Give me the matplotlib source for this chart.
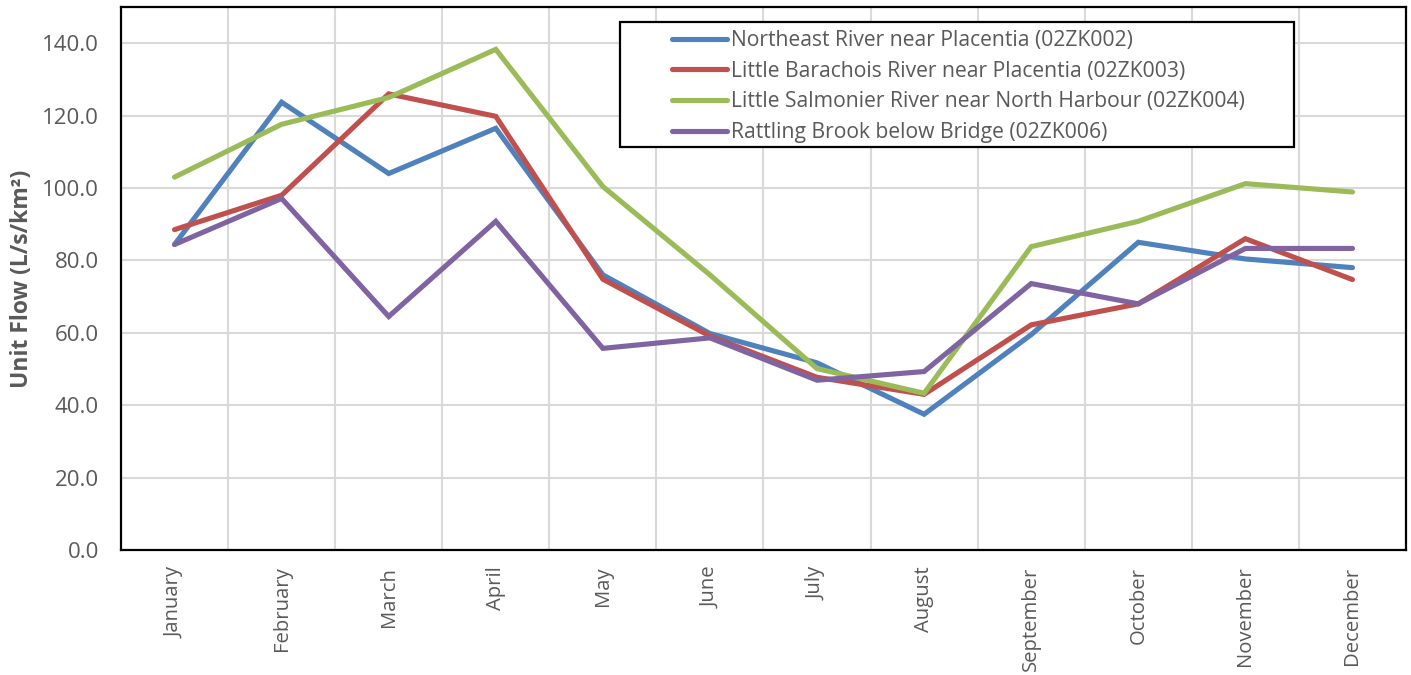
import matplotlib
matplotlib.use("Agg")
import matplotlib.pyplot as plt
import matplotlib.patches as mpatches
import numpy as np

plt.rcParams['font.family'] = ['Open Sans', 'DejaVu Sans']

months = ["January", "February", "March", "April", "May", "June", "July",
          "August", "September", "October", "November", "December"]
northeast = [84.4, 123.7, 104.0, 116.5, 76.0, 59.8, 51.7, 37.5, 59.5, 85.0, 80.4, 78.0]
barachois = [88.5, 98.0, 126.0, 119.8, 74.8, 59.1, 47.7, 43.0, 62.2, 68.0, 86.0, 74.7]
salmonier = [103.0, 117.6, 125.0, 138.3, 100.4, 76.0, 50.1, 43.3, 83.8, 90.8, 101.2, 98.9]
rattling = [84.4, 97.1, 64.5, 90.8, 55.7, 58.6, 46.9, 49.3, 73.6, 68.0, 83.3, 83.3]
labels = ["Northeast River near Placentia (02ZK002)",
          "Little Barachois River near Placentia (02ZK003)",
          "Little Salmonier River near North Harbour (02ZK004)",
          "Rattling Brook below Bridge (02ZK006)"]
colors = ["#4F81BD", "#C0504D", "#9BBB59", "#8064A2"]
yticks = [0, 20, 40, 60, 80, 100, 120, 140]

W, H = 1411, 675
fig = plt.figure(figsize=(W / 100, H / 100), dpi=100)
ax = fig.add_axes([121 / W, 1 - 550 / H, (1406 - 121) / W, (550 - 7) / H])
x = np.arange(len(months))
for vals, lab, c in zip([northeast, barachois, salmonier, rattling], labels, colors):
    ax.plot(x, vals, color=c, lw=3.7, label=lab, solid_capstyle='round',
            solid_joinstyle='miter', zorder=3)

ax.set_xlim(-0.5, len(months) - 0.5)
ax.set_ylim(0, 150)
ax.set_yticks(yticks)
ax.set_yticklabels([f"{v:.1f}" for v in yticks], fontsize=16, color="#595959")
ax.set_xticks(x)
ax.set_xticklabels(months, rotation=90, fontsize=14.6, color="#595959")
ax.set_xticks(np.arange(0.5, len(months) - 1, 1), minor=True)
ax.tick_params(axis='both', which='both', length=0)
ax.tick_params(axis='y', pad=16)
ax.tick_params(axis='x', pad=12)
ax.grid(True, axis='y', which='major', color="#d9d9d9", lw=1.5, zorder=0)
ax.grid(True, axis='x', which='minor', color="#d9d9d9", lw=1.5, zorder=0)
for s in ax.spines.values():
    s.set_color("black")
    s.set_linewidth(1.6)
ax.set_ylabel("Unit Flow (L/s/km²)", fontsize=16.5, fontweight='bold', color="#595959", labelpad=6)

# legend box
box = mpatches.Rectangle((620 / W, 1 - 147 / H), 674 / W, 125 / H, transform=fig.transFigure,
                         facecolor='white', edgecolor='black', lw=1.6, zorder=4, clip_on=False)
ax.add_patch(box)
leg = ax.legend(loc='center left', bbox_to_anchor=(672 / W, 1 - 86.5 / H),
                bbox_transform=fig.transFigure,
                fontsize=15.2, frameon=False, handlelength=2.6, handletextpad=0.2,
                borderpad=0, borderaxespad=0, labelspacing=0.46, labelcolor="#595959")
leg.set_zorder(5)

fig.savefig("out.png", dpi=100)
